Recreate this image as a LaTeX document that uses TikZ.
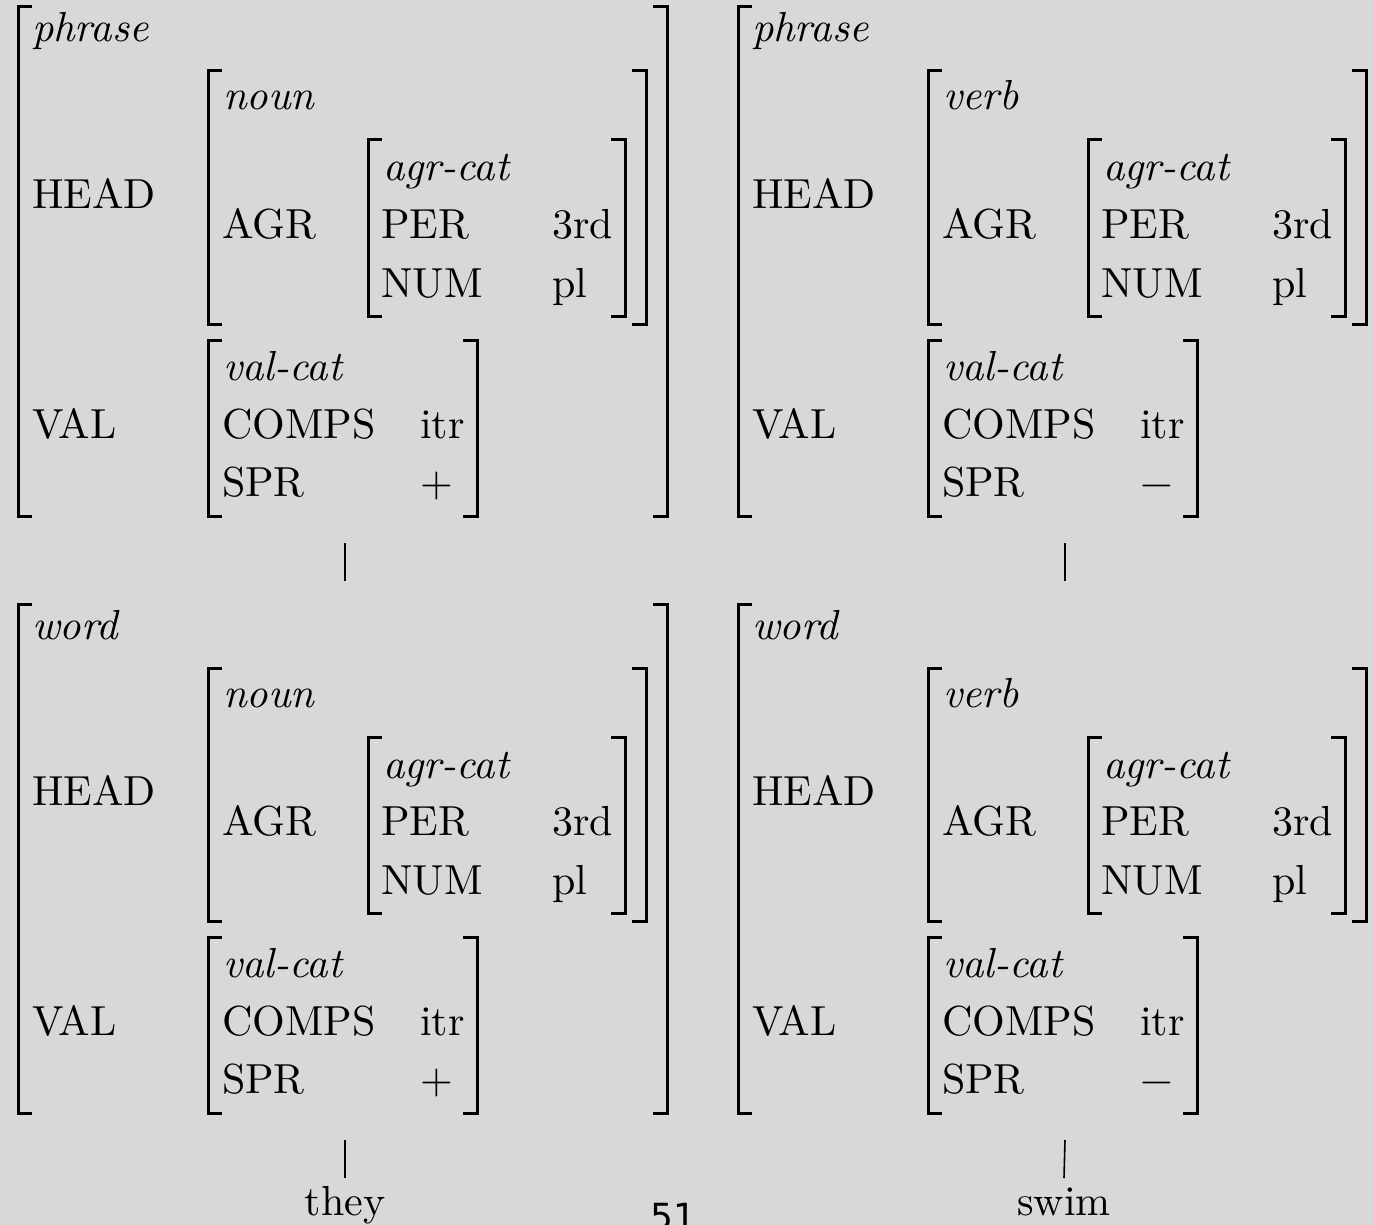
\documentclass[tikz,border=0pt]{standalone}
\usepackage{fontspec}
\setmainfont{lmroman10-regular.otf}[ItalicFont=lmroman10-italic.otf, BoldFont=lmroman10-bold.otf]
\newfontfamily\pagefont{DejaVu Sans}
\definecolor{bg}{RGB}{216,216,216}
\tikzset{
  txt/.style={anchor=base west, inner sep=0pt, outer sep=0pt, font=\fontsize{42}{50}\selectfont},
  brk/.style={line width=3pt, line join=miter, line cap=butt},
  tree/.style={line width=1.6pt},
}
\newcommand\lbrk[3]{\draw[brk] (#1+14,#2) -- (#1,#2) -- (#1,#3) -- (#1+14,#3);}
\newcommand\rbrk[3]{\draw[brk] (#1-14,#2) -- (#1,#2) -- (#1,#3) -- (#1-14,#3);}
\newcommand\avmbox[6]{%
\begin{scope}[shift={(#2,#3)}]
 \lbrk{18}{7}{516} \rbrk{667}{7}{516}
 \node[txt] (#1type) at (32,42) {\textit{#4}};
 \node[txt] (#1head) at (32,208) {HEAD};
 \node[txt] (#1val) at (32,438) {VAL};
 \lbrk{208}{71}{324} \rbrk{646}{71}{324}
 \node[txt] (#1hty) at (223,110) {\textit{#5}};
 \node[txt] (#1agr) at (222,238) {AGR};
 \lbrk{368}{140}{316} \rbrk{625}{140}{316}
 \node[txt] (#1agrcat) at (383,181) {\textit{agr-cat}};
 \node[txt] (#1per) at (381,238) {PER};
 \node[txt] (#1perv) at (552,238) {3rd};
 \node[txt] (#1num) at (381,297) {NUM};
 \node[txt] (#1numv) at (552,297) {pl};
 \lbrk{208}{340}{516} \rbrk{477}{340}{516}
 \node[txt] (#1valcat) at (223,380) {\textit{val-cat}};
 \node[txt] (#1comps) at (222,438) {COMPS};
 \node[txt] (#1compsv) at (420,438) {itr};
 \node[txt] (#1spr) at (222,496) {SPR};
 \node[txt] (#1sprv) at (420,496) {#6};
 \coordinate (#1top) at (345,-16);
 \coordinate (#1bot) at (345,543);
\end{scope}}
\begin{document}
\begin{tikzpicture}[x=1pt,y=-1pt]
\useasboundingbox (0,0) rectangle (1373,1225);
\fill[bg] (0,0) rectangle (1373,1225);
\clip (0,0) rectangle (1373,1225);
\avmbox{a}{0}{0}{phrase}{noun}{+}
\avmbox{b}{0}{597}{word}{noun}{+}
\avmbox{c}{720}{0}{phrase}{verb}{−}
\avmbox{d}{720}{597}{word}{verb}{−}
\draw[tree] (abot) -- (btop);
\draw[tree] (cbot) -- (dtop);
\node[anchor=base, inner sep=0pt, font=\fontsize{42}{50}\selectfont] (they) at (345,1215) {they};
\node[anchor=base, inner sep=0pt, font=\fontsize{42}{50}\selectfont] (swim) at (1064,1215) {swim};
\coordinate (bleaf) at (345,1178);
\coordinate (dleaf) at (1064,1178);
\draw[tree] (bbot) -- (bleaf);
\draw[tree] (dbot) -- (dleaf);
\node[anchor=base west, inner sep=0pt, font=\pagefont\fontsize{36}{40}\selectfont] (pg) at (650,1229) {51};
\end{tikzpicture}
\end{document}
